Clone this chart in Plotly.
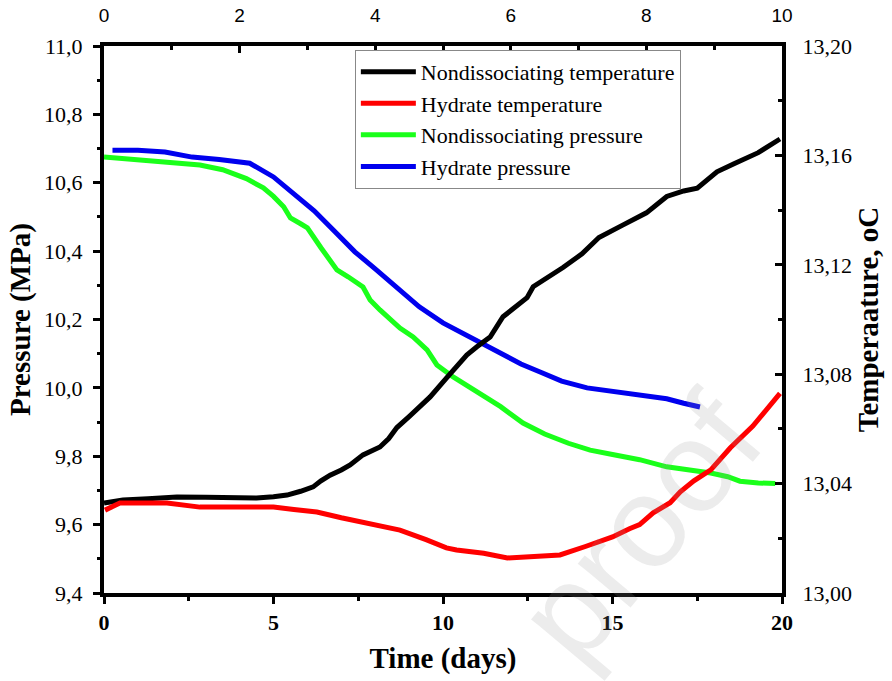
import plotly.graph_objects as go

# ---------------- data ----------------
# Nondissociating temperature (right axis, deg C)
t_nd_temp = [0, 0.56, 1.3, 2.15, 3.0, 3.8, 4.5, 5.0, 5.4, 5.8, 6.17, 6.4, 6.67, 7.0, 7.26,
             7.64, 7.9, 8.14, 8.4, 8.64, 9.0, 9.62, 10.1, 10.5, 10.7, 11.0, 11.39, 11.77,
             12.1, 12.48, 12.66, 13.1, 13.54, 14.1, 14.6, 15.3, 16.0, 16.6, 17.1, 17.5,
             18.08, 18.6, 19.3, 19.94]
v_nd_temp = [13.0329, 13.034, 13.0345, 13.0351, 13.035, 13.0347, 13.0347, 13.0352, 13.0358,
             13.0372, 13.0388, 13.041, 13.0431, 13.045, 13.0468, 13.0505, 13.052, 13.0534,
             13.0565, 13.0605, 13.0645, 13.0717, 13.0786, 13.0841, 13.087, 13.09, 13.0936,
             13.101, 13.104, 13.108, 13.112, 13.1155, 13.119, 13.124, 13.130, 13.1345,
             13.139, 13.145, 13.147, 13.148, 13.154, 13.157, 13.161, 13.166]

# Hydrate temperature (right axis, deg C)
t_hy_temp = [0.03, 0.47, 1.0, 1.86, 2.83, 4.0, 5.0, 5.6, 6.28, 7.0, 7.94, 8.73, 9.5, 10.1,
             10.4, 11.2, 11.9, 12.6, 13.45, 14.2, 15.0, 15.5, 15.8, 16.2, 16.7, 17.0, 17.4,
             17.9, 18.47, 19.14, 19.5, 19.94]
v_hy_temp = [13.0303, 13.0329, 13.0329, 13.0329, 13.0314, 13.0314, 13.0314, 13.0305, 13.0296,
             13.0275, 13.0249, 13.023, 13.0195, 13.0165, 13.0157, 13.0145, 13.0128, 13.0132,
             13.0139, 13.017, 13.0205, 13.0235, 13.025, 13.0293, 13.033, 13.037, 13.041,
             13.045, 13.053, 13.061, 13.0665, 13.073]

# Nondissociating pressure (left axis, MPa)
t_nd_pres = [0, 1.0, 2.0, 2.83, 3.5, 4.2, 4.7, 5.0, 5.3, 5.5, 5.8, 6.0, 6.4, 6.87, 7.2, 7.46,
             7.64, 7.85, 8.14, 8.73, 9.12, 9.53, 9.82, 10.3, 11.0, 11.7, 12.36, 13.0, 13.7,
             14.34, 15.0, 15.8, 16.6, 17.3, 17.9, 18.4, 18.76, 19.3, 19.8]
v_nd_pres = [10.675, 10.668, 10.66, 10.652, 10.638, 10.612, 10.585, 10.56, 10.53, 10.497,
             10.48, 10.468, 10.41, 10.345, 10.325, 10.307, 10.295, 10.257, 10.228, 10.175,
             10.149, 10.111, 10.067, 10.032, 9.99, 9.945, 9.897, 9.865, 9.838, 9.818, 9.805,
             9.79, 9.769, 9.76, 9.751, 9.74, 9.727, 9.722, 9.72]

# Hydrate pressure (left axis, MPa)
t_hy_pres = [0.25, 1.0, 1.8, 2.6, 3.4, 4.3, 5.0, 5.6, 6.2, 6.8, 7.4, 8.0, 8.7, 9.3, 10.0,
             10.6, 11.1, 11.7, 12.3, 12.9, 13.5, 14.25, 15.0, 15.8, 16.6, 17.1, 17.58]
v_hy_pres = [10.695, 10.695, 10.69, 10.675, 10.668, 10.657, 10.617, 10.568, 10.518, 10.458,
             10.398, 10.348, 10.29, 10.237, 10.19, 10.158, 10.134, 10.1, 10.07, 10.045,
             10.02, 10.0, 9.99, 9.98, 9.968, 9.955, 9.944]

names = ["Nondissociating temperature", "Hydrate temperature",
         "Nondissociating pressure", "Hydrate pressure"]
colors = ["#000000", "#ff0000", "#1aff1a", "#0000ee"]

x_ticks = [0, 5, 10, 15, 20]
top_ticks = [0, 2, 4, 6, 8, 10]
p_ticks = [9.4, 9.6, 9.8, 10.0, 10.2, 10.4, 10.6, 10.8, 11.0]
t_ticks = [13.00, 13.04, 13.08, 13.12, 13.16, 13.20]

SERIF = "Liberation Serif"
SANS = "Liberation Sans"

fig = go.Figure()
fig.add_trace(go.Scatter(x=t_nd_temp, y=v_nd_temp, name=names[0], mode="lines",
                         line=dict(color=colors[0], width=5), xaxis="x", yaxis="y2"))
fig.add_trace(go.Scatter(x=t_hy_temp, y=v_hy_temp, name=names[1], mode="lines",
                         line=dict(color=colors[1], width=5), xaxis="x", yaxis="y2"))
fig.add_trace(go.Scatter(x=t_nd_pres, y=v_nd_pres, name=names[2], mode="lines",
                         line=dict(color=colors[2], width=5), xaxis="x", yaxis="y"))
fig.add_trace(go.Scatter(x=t_hy_pres, y=v_hy_pres, name=names[3], mode="lines",
                         line=dict(color=colors[3], width=5), xaxis="x", yaxis="y"))
# helper so the top axis is drawn
fig.add_trace(go.Scatter(x=[top_ticks[0], top_ticks[-1]], y=[None, None], xaxis="x2", yaxis="y",
                         showlegend=False, hoverinfo="skip", mode="lines"))

common = dict(showgrid=False, zeroline=False, automargin=False, showline=True,
              linewidth=4, linecolor="black", tickwidth=3, tickcolor="black", ticklen=7)

fig.update_layout(
    template="none",
    width=892, height=681,
    margin=dict(l=104, r=110, t=46, b=88),
    paper_bgcolor="white", plot_bgcolor="white",
    separators=", ",
    font=dict(family=SERIF, color="black"),
    xaxis=dict(range=[0, 20], tickmode="array", tickvals=x_ticks, ticks="outside",
               minor=dict(ticks="outside", ticklen=4, tickwidth=3, dtick=2.5, tickcolor="black"),
               tickfont=dict(family=SERIF, size=22, color="black", weight="bold"),
               title=dict(text="<b>Time (days)</b>", font=dict(family=SERIF, size=29),
                          standoff=14), **common),
    xaxis2=dict(range=[0, 10], tickmode="array", tickvals=top_ticks, overlaying="x",
                side="top", anchor="y", ticks="inside",
                minor=dict(ticks="inside", ticklen=4, tickwidth=3, dtick=1, tickcolor="black"),
                tickfont=dict(family=SANS, size=19, color="black"),
                ticklabelstandoff=12, **common),
    yaxis=dict(range=[9.4, 11.0], tickmode="array", tickvals=p_ticks, tickformat=".1f",
               ticks="outside",
               minor=dict(ticks="outside", ticklen=3, tickwidth=3, dtick=0.1, tickcolor="black"),
               tickfont=dict(family=SERIF, size=22, color="black"),
               ticklabelstandoff=6,
               title=dict(text="<b>Pressure (MPa)</b>", font=dict(family=SERIF, size=29),
                          standoff=6), **common),
    yaxis2=dict(range=[13.0, 13.2], tickmode="array", tickvals=t_ticks, tickformat=".2f",
                overlaying="y", side="right", anchor="x", ticks="inside",
                minor=dict(ticks="inside", ticklen=4, tickwidth=3, dtick=0.02, tickcolor="black"),
                tickfont=dict(family=SERIF, size=22, color="black"),
                ticklabelstandoff=12,
                title=dict(text="<b>Temperaature, oC</b>", font=dict(family=SERIF, size=29),
                           standoff=8), **common),
    legend=dict(x=0.37, y=0.993, xanchor="left", yanchor="top",
                bgcolor="white", bordercolor="#888888", borderwidth=1,
                font=dict(family=SERIF, size=22, color="black"),
                tracegroupgap=0, itemwidth=55),
    showlegend=True,
)

# faint watermark
fig.add_annotation(text="proof", xref="paper", yref="paper", x=0.79, y=0.12,
                   xanchor="center", yanchor="middle",
                   showarrow=False, textangle=-50,
                   font=dict(family=SANS, size=130, color="rgba(150,150,150,0.18)"))

fig.write_html("out.html")
